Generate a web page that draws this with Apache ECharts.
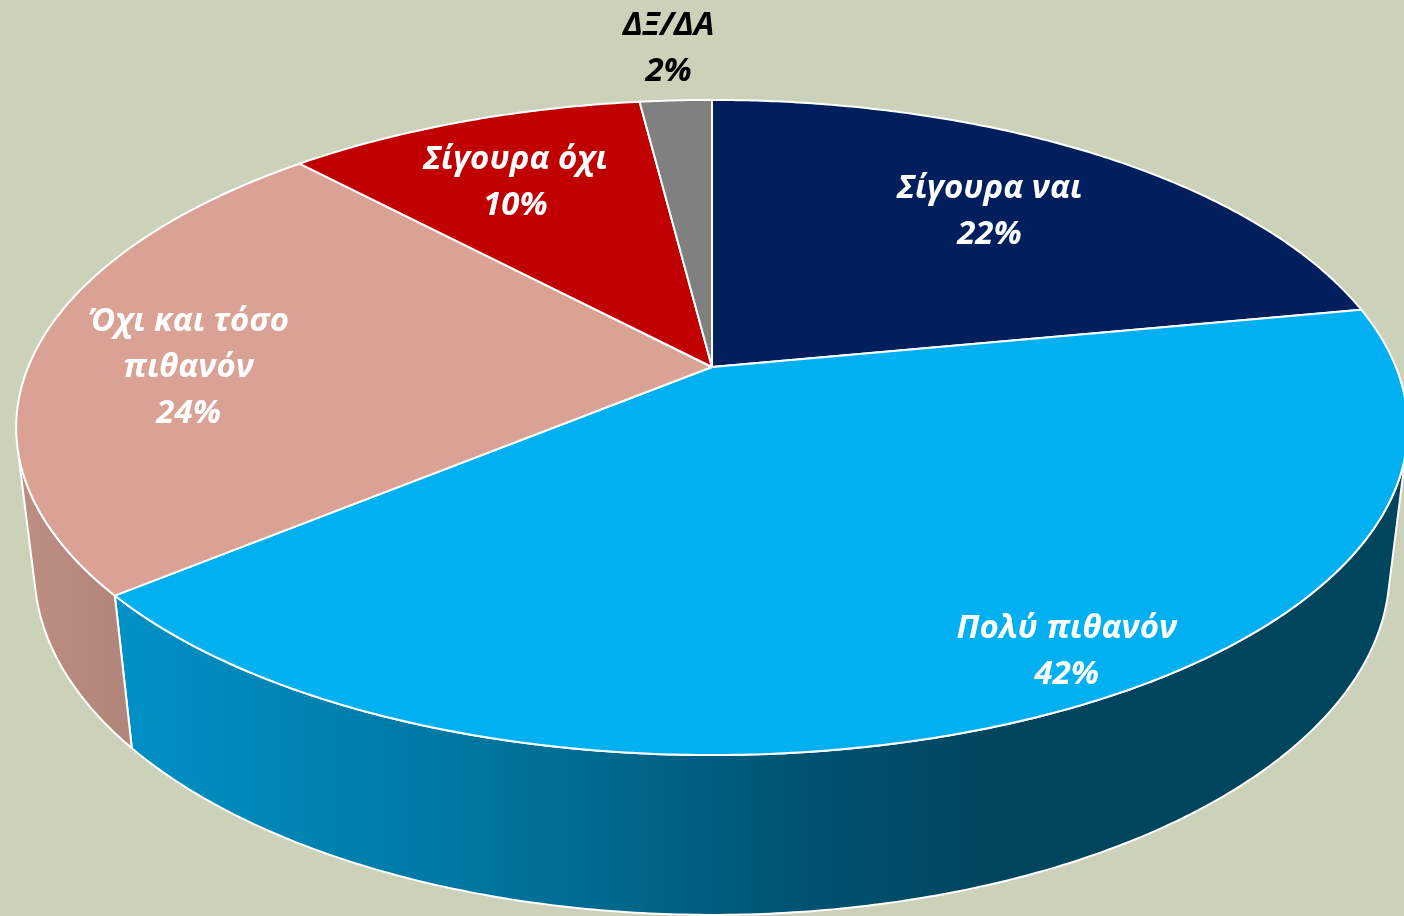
<!DOCTYPE html>
<html>
<head>
<meta charset="utf-8">
<script src="https://cdn.jsdelivr.net/npm/echarts@6/dist/echarts.min.js"></script>
<style>
    html, body { margin: 0; padding: 0; background: #ccd1b9; }
    #chart1 { width: 1404px; height: 916px; }
</style>
</head>
<body>
<div id="chart1"></div>
<script>
// data
var categories = ['Σίγουρα ναι', 'Πολύ πιθανόν', 'Όχι και τόσο\nπιθανόν', 'Σίγουρα όχι', 'ΔΞ/ΔΑ'];
var values = [22, 42, 24, 10, 2];
var percentLabels = ['22%', '42%', '24%', '10%', '2%'];

// styles
var topColors = ['#001f5c', '#00b0f0', '#d9a295', '#c00000', '#808080'];
var labelColors = ['#ffffff', '#ffffff', '#ffffff', '#ffffff', '#000000'];
var labelRadius = [0.7, 0.89, 0.765, 0.73, 1.24];  // radial position of each label
var labelTurn = [0, -4.8, -3.8, -1, 0];            // small turn (deg) from the mid angle

// 3d view (perspective), pie radius = 1
var CX = 712, CY = 367;
var FX = 3240, FY = 3094;
var DIST = 4.738;
var TILT = 28.98 * Math.PI / 180;
var THICK = 0.253;
var sinT = Math.sin(TILT), cosT = Math.cos(TILT);

// side shade factor along screen x
var shadeStops = [[0, 0.88], [0.093, 0.82], [0.32, 0.68], [0.427, 0.6], [0.57, 0.47], [0.712, 0.39], [1, 0.39]];

var project = function (deg, r, z) {
    var a = deg * Math.PI / 180;
    var x = r * Math.sin(a), y = r * Math.cos(a);
    var yc = y * sinT + z * cosT;
    var zc = y * cosT - z * sinT + DIST;
    return [CX + FX * x / zc, CY - FY * yc / zc];
};

var shade = function (hex, k) {
    var n = parseInt(hex.slice(1), 16);
    var r = Math.round(((n >> 16) & 255) * k);
    var g = Math.round(((n >> 8) & 255) * k);
    var b = Math.round((n & 255) * k);
    return 'rgb(' + r + ',' + g + ',' + b + ')';
};

var total = 0;
for (var i = 0; i < values.length; i++) total += values[i];
var startDeg = [];
var acc = 0;
for (var i = 0; i < values.length; i++) {
    startDeg.push(acc / total * 360);
    acc += values[i];
}

// front facing part of the outer wall
var limit = Math.acos(-1 / (DIST * cosT)) * 180 / Math.PI;
var wallFrom = limit, wallTo = 360 - limit;

var arc = function (a0, a1, z, pts) {
    var steps = Math.max(2, Math.ceil(Math.abs(a1 - a0) / 0.5));
    for (var k = 0; k <= steps; k++) {
        pts.push(project(a0 + (a1 - a0) * k / steps, 1, z));
    }
    return pts;
};

var renderItem = function (params, api) {
    var idx = params.dataIndex;
    var a0 = startDeg[idx];
    var a1 = a0 + values[idx] / total * 360;
    var children = [];
    var W = api.getWidth();

    var w0 = Math.max(a0, wallFrom), w1 = Math.min(a1, wallTo);
    if (w1 > w0) {
        var wall = arc(w0, w1, 0, []);
        var bottom = arc(w1, w0, -THICK, []);
        wall = wall.concat(bottom);
        var stops = shadeStops.map(function (s) {
            return { offset: s[0], color: shade(topColors[idx], s[1]) };
        });
        children.push({
            type: 'polygon',
            z2: 1,
            shape: { points: wall },
            style: {
                fill: { type: 'linear', x: 0, y: 0, x2: W, y2: 0, global: true, colorStops: stops },
                stroke: '#ffffff',
                lineWidth: 2,
                lineJoin: 'round'
            }
        });
    }

    var top = [project(0, 0, 0)];
    arc(a0, a1, 0, top);
    children.push({
        type: 'polygon',
        z2: 10,
        shape: { points: top },
        style: { fill: topColors[idx], stroke: '#ffffff', lineWidth: 2, lineJoin: 'round' }
    });

    var mid = (a0 + a1) / 2 + labelTurn[idx];
    var p = project(mid, labelRadius[idx], 0);
    children.push({
        type: 'text',
        z2: 20,
        style: {
            text: categories[idx] + '\n' + percentLabels[idx],
            x: p[0],
            y: p[1],
            align: 'center',
            verticalAlign: 'middle',
            fill: labelColors[idx],
            fontFamily: 'Open Sans',
            fontSize: 33,
            fontWeight: 'bold',
            fontStyle: 'italic',
            lineHeight: 46
        }
    });
    return { type: 'group', children: children };
};

var myChart = echarts.init(document.getElementById('chart1'));
var option = {
    backgroundColor: '#ccd1b9',
    animation: false,
    series: [{
        type: 'custom',
        coordinateSystem: 'none',
        renderItem: renderItem,
        data: values
    }]
};
myChart.setOption(option);
</script>
</body>
</html>
